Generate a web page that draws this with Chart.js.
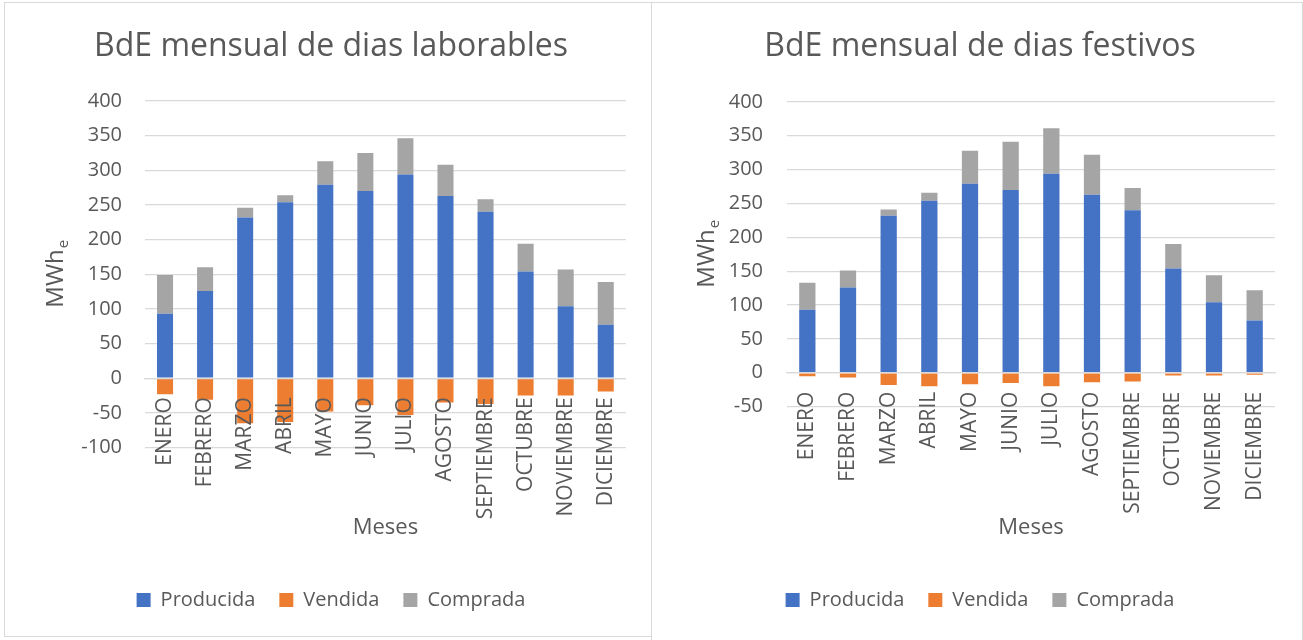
<!DOCTYPE html>
<html>
<head>
<meta charset="utf-8">
<script src="https://cdn.jsdelivr.net/npm/chart.js@4"></script>
<style>
  body { margin: 0; background: #fff; overflow: hidden; }
  .box { position: absolute; border: 1px solid #d9d9d9; background: #fff; }
  #boxLab { left: 4px; top: 2px; width: 646px; height: 633px; }
  #boxFest { left: 651px; top: 2px; width: 650px; height: 637px; }
</style>
</head>
<body>
<div class="box" id="boxLab"><canvas id="lab"></canvas></div>
<div class="box" id="boxFest"><canvas id="fest"></canvas></div>
<script>
const meses = ['ENERO', 'FEBRERO', 'MARZO', 'ABRIL', 'MAYO', 'JUNIO', 'JULIO', 'AGOSTO', 'SEPTIEMBRE', 'OCTUBRE', 'NOVIEMBRE', 'DICIEMBRE']
const producida = [93, 126, 232, 254, 279, 270, 294, 263, 240, 154, 104, 77]
const vendidaLab = [-23, -31, -65, -63, -48, -39, -53, -35, -37, -25, -25, -19]
const compradaLab = [56, 34, 14, 10, 34, 55, 52, 45, 18, 40, 53, 62]
const vendidaFest = [-5, -7, -18, -20, -17, -15, -20, -14, -13, -4, -4, -3]
const compradaFest = [40, 25, 9, 12, 49, 71, 67, 59, 33, 36, 40, 45]
const yTicksLab = { min: -100, max: 400, step: 50 }
const yTicksFest = { min: -50, max: 400, step: 50 }

const grey = '#595959'
const gridGrey = '#d9d9d9'
const font = 'Open Sans'

// y axis title "MWh" with a subscript e
const yTitlePlugin = {
  id: 'yTitle',
  afterDraw(chart, args, opts) {
    const { ctx, chartArea } = chart
    const cy = (chartArea.top + chartArea.bottom) / 2
    ctx.save()
    ctx.translate(opts.x, cy)
    ctx.rotate(-Math.PI / 2)
    ctx.fillStyle = grey
    ctx.textBaseline = 'middle'
    ctx.textAlign = 'left'
    ctx.font = '24px "' + font + '"'
    const w1 = ctx.measureText('MWh').width
    ctx.font = '15px "' + font + '"'
    const w2 = ctx.measureText('e').width
    const x0 = -(w1 + w2) / 2
    ctx.font = '24px "' + font + '"'
    ctx.fillText('MWh', x0, 0)
    ctx.font = '15px "' + font + '"'
    ctx.fillText('e', x0 + w1 + 1, 8)
    ctx.restore()
  }
}

function drawChart(id, title, vendida, comprada, yt, lay) {
  return new Chart(document.getElementById(id), {
    type: 'bar',
    plugins: [yTitlePlugin],
    data: {
      labels: meses,
      datasets: [
        { label: 'Producida', data: producida, backgroundColor: '#4472C4' },
        { label: 'Vendida', data: vendida, backgroundColor: '#ED7D31' },
        { label: 'Comprada', data: comprada, backgroundColor: '#A5A5A5' }
      ]
    },
    options: {
      responsive: true,
      maintainAspectRatio: false,
      animation: false,
      barPercentage: 0.4,
      categoryPercentage: 1,
      layout: { padding: { left: 6, right: 0, top: 0, bottom: lay.bottom } },
      scales: {
        x: {
          stacked: true,
          position: { y: 0 },
          grid: { display: false, drawTicks: false },
          border: { display: true, color: gridGrey, width: 1.3, z: 1 },
          ticks: {
            color: grey, font: { family: font, size: 21 }, z: 1,
            minRotation: 90, maxRotation: 90, autoSkip: false, padding: 19
          }
        },
        y: {
          stacked: true,
          min: yt.min,
          max: yt.max,
          border: { display: false },
          grid: { color: gridGrey, lineWidth: 1.3, drawTicks: false },
          ticks: { stepSize: yt.step, color: grey, font: { family: font, size: 20 }, padding: lay.tickPad },
          afterFit(scale) { scale.width = lay.axisW - 6 }
        },
        // empty axis on the right, only keeps the plot off the right edge
        pad: {
          type: 'linear',
          position: 'right',
          grid: { display: false, drawTicks: false },
          border: { display: false },
          ticks: { display: false },
          afterFit(scale) { scale.width = lay.right }
        }
      },
      plugins: {
        yTitle: { x: lay.yTitleX },
        title: {
          display: true, text: title, color: grey,
          font: { family: font, size: 32, weight: 'normal' },
          padding: { top: 25, bottom: lay.titleBottom }
        },
        subtitle: {
          display: true, text: 'Meses', position: 'bottom', fullSize: false, color: grey,
          font: { family: font, size: 22 },
          padding: { top: lay.subTop, bottom: 25 }
        },
        legend: {
          position: 'bottom', weight: 3000,
          labels: { boxWidth: 14, boxHeight: 14, padding: 24, color: grey, font: { family: font, size: 20 } }
        },
        tooltip: { enabled: false }
      }
    }
  })
}

drawChart('lab', 'BdE mensual de dias laborables', vendidaLab, compradaLab, yTicksLab,
  { right: 25, bottom: 16, axisW: 140, tickPad: 23, yTitleX: 51, titleBottom: 34.5, subTop: 67 })
drawChart('fest', 'BdE mensual de dias festivos', vendidaFest, compradaFest, yTicksFest,
  { right: 27, bottom: 20, axisW: 135, tickPad: 24, yTitleX: 55, titleBottom: 35.5, subTop: 108 })
</script>
</body>
</html>
